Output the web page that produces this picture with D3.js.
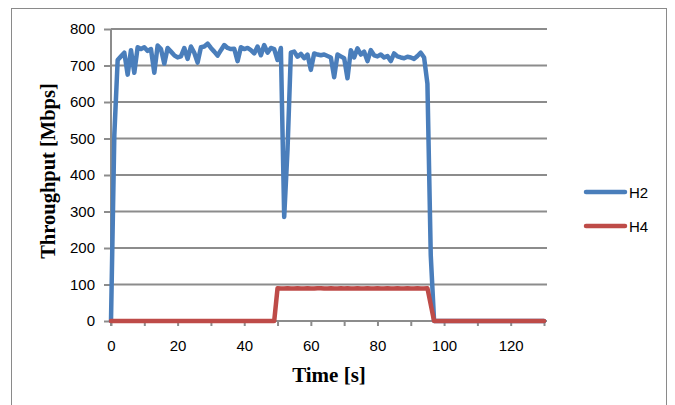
<!DOCTYPE html>
<html>
<head>
<meta charset="utf-8">
<script src="https://cdn.jsdelivr.net/npm/d3@7"></script>
<style>
    body { margin: 0; background: #fff; }
    .tick-label { font-family: "Liberation Sans", Arial, sans-serif; font-size: 15px; fill: #000; }
    .axis-title { font-family: "Liberation Serif", "Times New Roman", serif; font-weight: bold; fill: #000; }
</style>
</head>
<body>
<div id="chart"></div>
<script>
// data, one sample per second (t = index)
let seconds = [
    0, 1, 2, 3, 4, 5, 6, 7, 8, 9,
    10, 11, 12, 13, 14, 15, 16, 17, 18, 19,
    20, 21, 22, 23, 24, 25, 26, 27, 28, 29,
    30, 31, 32, 33, 34, 35, 36, 37, 38, 39,
    40, 41, 42, 43, 44, 45, 46, 47, 48, 49,
    50, 51, 52, 53, 54, 55, 56, 57, 58, 59,
    60, 61, 62, 63, 64, 65, 66, 67, 68, 69,
    70, 71, 72, 73, 74, 75, 76, 77, 78, 79,
    80, 81, 82, 83, 84, 85, 86, 87, 88, 89,
    90, 91, 92, 93, 94, 95, 96, 97, 98, 99,
    100, 101, 102, 103, 104, 105, 106, 107, 108, 109,
    110, 111, 112, 113, 114, 115, 116, 117, 118, 119,
    120, 121, 122, 123, 124, 125, 126, 127, 128, 129,
    130
];

let h2 = [
    0, 510, 715, 725, 735, 675, 742, 680, 750, 745,
    750, 740, 745, 680, 755, 745, 705, 748, 738, 728,
    722, 725, 748, 718, 752, 735, 708, 750, 752, 760,
    748, 738, 727, 742, 756, 748, 745, 746, 712, 750,
    745, 748, 742, 733, 752, 728, 756, 735, 748, 745,
    715, 748, 285, 470, 735, 738, 724, 732, 720, 730,
    688, 733, 730, 728, 730, 726, 722, 668, 730, 725,
    720, 665, 742, 722, 747, 730, 738, 712, 742, 728,
    725, 730, 722, 726, 712, 733, 725, 722, 720, 724,
    722, 718, 726, 735, 722, 650, 180, 0, 0, 0,
    0, 0, 0, 0, 0, 0, 0, 0, 0, 0,
    0, 0, 0, 0, 0, 0, 0, 0, 0, 0,
    0, 0, 0, 0, 0, 0, 0, 0, 0, 0,
    0
];

let h4 = [
    0, 0, 0, 0, 0, 0, 0, 0, 0, 0,
    0, 0, 0, 0, 0, 0, 0, 0, 0, 0,
    0, 0, 0, 0, 0, 0, 0, 0, 0, 0,
    0, 0, 0, 0, 0, 0, 0, 0, 0, 0,
    0, 0, 0, 0, 0, 0, 0, 0, 0, 0,
    90, 89, 89, 90, 89, 89, 90, 89, 89, 90,
    89, 89, 90, 90, 89, 89, 90, 89, 89, 90,
    89, 90, 89, 89, 90, 89, 89, 90, 89, 89,
    90, 89, 89, 90, 89, 89, 90, 89, 89, 90,
    89, 89, 90, 89, 89, 90, 45, 0, 0, 0,
    0, 0, 0, 0, 0, 0, 0, 0, 0, 0,
    0, 0, 0, 0, 0, 0, 0, 0, 0, 0,
    0, 0, 0, 0, 0, 0, 0, 0, 0, 0,
    0
];

let seriesNames = ["H2", "H4"];
let seriesColors = ["#4a7ebb", "#be4b48"];
let yTicks = [0, 100, 200, 300, 400, 500, 600, 700, 800];
let xMinorTicks = [0, 10, 20, 30, 40, 50, 60, 70, 80, 90, 100, 110, 120, 130];
let xLabelTicks = [0, 20, 40, 60, 80, 100, 120];

// margin conventions
let margin = { top: 29, right: 131, bottom: 84, left: 111 };
let width = 675 - margin.left - margin.right;
let height = 405 - margin.top - margin.bottom;

let svgRoot = d3.select("#chart").append("svg")
    .attr("width", 675)
    .attr("height", 405);

// outer chart border
svgRoot.append("rect")
    .attr("x", 11.5)
    .attr("y", 8.5)
    .attr("width", 655)
    .attr("height", 420)
    .attr("fill", "none")
    .attr("stroke", "#8a8a8a")
    .attr("stroke-width", 1);

let svg = svgRoot.append("g")
    .attr("transform", "translate(" + margin.left + "," + margin.top + ")");

// scales
let x = d3.scaleLinear().domain([0, 130]).range([0, width]);
let y = d3.scaleLinear().domain([0, 800]).range([height, 0]);

// gridlines
svg.selectAll(".grid")
    .data(yTicks.slice(1))
    .enter()
    .append("line")
    .attr("class", "grid")
    .attr("x1", 0)
    .attr("x2", width + 3)
    .attr("y1", d => y(d))
    .attr("y2", d => y(d))
    .attr("stroke", "#8c8c8c")
    .attr("stroke-width", 2);

// y axis
let yAxis = d3.axisLeft(y).tickValues(yTicks).tickSize(7).tickPadding(9);
let yG = svg.append("g").call(yAxis);
yG.select(".domain").attr("stroke", "#8c8c8c").attr("stroke-width", 2)
    .attr("d", "M0," + (height + 5) + "V0");
yG.selectAll(".tick line").attr("stroke", "#8c8c8c").attr("stroke-width", 2);
yG.selectAll(".tick text").attr("class", "tick-label").attr("font-family", null).attr("font-size", null);

// x axis (minor marks every 10, labels every 20)
let xAxis = d3.axisBottom(x).tickValues(xMinorTicks).tickSize(5)
    .tickFormat(d => xLabelTicks.includes(d) ? d : "").tickPadding(14);
let xG = svg.append("g")
    .attr("transform", "translate(0," + height + ")")
    .call(xAxis);
xG.select(".domain").attr("stroke", "#8c8c8c").attr("stroke-width", 2)
    .attr("d", "M0,0H" + (width + 3));
xG.selectAll(".tick line").attr("stroke", "#8c8c8c").attr("stroke-width", 2);
xG.selectAll(".tick text").attr("class", "tick-label").attr("font-family", null).attr("font-size", null);

// lines
let line = d3.line()
    .x((d, i) => x(seconds[i]))
    .y(d => y(d));

[h2, h4].forEach(function (values, k) {
    svg.append("path")
        .datum(values)
        .attr("fill", "none")
        .attr("stroke", seriesColors[k])
        .attr("stroke-width", 4.5)
        .attr("stroke-linejoin", "round")
        .attr("stroke-linecap", "round")
        .attr("d", line);
});

// legend
let legend = svgRoot.append("g").attr("transform", "translate(586,192)");
seriesNames.forEach(function (name, k) {
    let row = legend.append("g").attr("transform", "translate(0," + (k * 34) + ")");
    row.append("line")
        .attr("x1", 0).attr("x2", 39)
        .attr("y1", 0).attr("y2", 0)
        .attr("stroke", seriesColors[k])
        .attr("stroke-width", 4.5)
        .attr("stroke-linecap", "round");
    row.append("text")
        .attr("class", "tick-label")
        .attr("x", 43)
        .attr("y", 5.5)
        .text(name);
});

// axis titles
svgRoot.append("text")
    .attr("class", "axis-title")
    .attr("x", 329)
    .attr("y", 382)
    .attr("text-anchor", "middle")
    .style("font-size", "21px")
    .text("Time [s]");

svgRoot.append("text")
    .attr("class", "axis-title")
    .attr("transform", "translate(55,171) rotate(-90)")
    .attr("text-anchor", "middle")
    .style("font-size", "20.5px")
    .text("Throughput [Mbps]");
</script>
</body>
</html>
